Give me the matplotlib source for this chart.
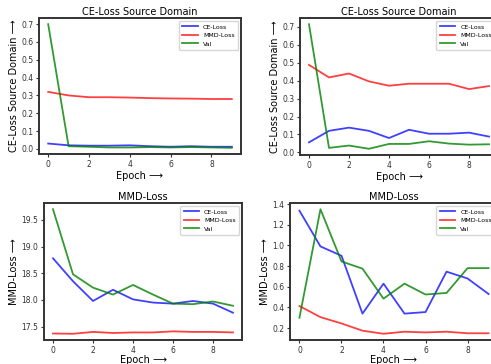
import matplotlib.pyplot as plt

# epochs shared by all four panels
epochs = list(range(10))

# top left run
tl_ce = [0.030, 0.020, 0.018, 0.018, 0.020, 0.015, 0.012, 0.015, 0.012, 0.012]
tl_mmd = [0.320, 0.300, 0.290, 0.290, 0.288, 0.285, 0.283, 0.282, 0.280, 0.280]
tl_val = [0.700, 0.015, 0.012, 0.008, 0.008, 0.010, 0.008, 0.010, 0.008, 0.006]

# top right run
tr_ce = [0.056, 0.120, 0.138, 0.120, 0.080, 0.126, 0.104, 0.104, 0.110, 0.088]
tr_mmd = [0.488, 0.418, 0.440, 0.396, 0.372, 0.383, 0.383, 0.383, 0.353, 0.370]
tr_val = [0.715, 0.025, 0.038, 0.020, 0.047, 0.047, 0.062, 0.049, 0.043, 0.045]

# bottom left run
bl_ce = [18.78, 18.35, 17.98, 18.19, 18.01, 17.95, 17.93, 17.98, 17.93, 17.76]
bl_mmd = [17.37, 17.365, 17.40, 17.38, 17.39, 17.39, 17.41, 17.40, 17.40, 17.39]
bl_val = [19.70, 18.48, 18.23, 18.10, 18.28, 18.10, 17.93, 17.92, 17.97, 17.89]

# bottom right run
br_ce = [1.336, 0.99, 0.90, 0.34, 0.63, 0.34, 0.355, 0.746, 0.68, 0.53]
br_mmd = [0.413, 0.306, 0.245, 0.175, 0.145, 0.165, 0.158, 0.165, 0.150, 0.150]
br_val = [0.30, 1.35, 0.845, 0.775, 0.485, 0.63, 0.525, 0.54, 0.78, 0.78]

W, H = 491, 364
fig = plt.figure(figsize=(W / 100, H / 100), dpi=100)


def box(l, r, t, b):
    return [l / W, 1 - b / H, (r - l) / W, (b - t) / H]


panels = [
    (box(39, 241, 18, 154), tl_ce, tl_mmd, tl_val, 'CE-Loss Source Domain', 'CE-Loss Source Domain', 1.5),
    (box(300, 498, 18, 155), tr_ce, tr_mmd, tr_val, 'CE-Loss Source Domain', 'CE-Loss Source Domain', 1.5),
    (box(44, 242, 203, 340), bl_ce, bl_mmd, bl_val, 'MMD-Loss', 'MMD-Loss', 0),
    (box(290, 498, 203, 340), br_ce, br_mmd, br_val, 'MMD-Loss', 'MMD-Loss', 0),
]

for rect, ce, mmd, val, title, ylab, xpad in panels:
    ax = fig.add_axes(rect)
    ax.plot(epochs, ce, color='blue', alpha=0.75, lw=1.3, label='CE-Loss')
    ax.plot(epochs, mmd, color='red', alpha=0.75, lw=1.3, label='MMD-Loss')
    ax.plot(epochs, val, color='green', alpha=0.8, lw=1.3, label='Val')
    ax.set_title(title, fontsize=7, pad=2)
    ax.set_xlabel('Epoch \u27f6', fontsize=7, labelpad=xpad)
    ax.set_ylabel(ylab + ' \u27f6', fontsize=7, labelpad=2)
    ax.set_xticks([0, 2, 4, 6, 8])
    ax.tick_params(labelsize=5.5, length=2.5, pad=1.5, colors='#333333')
    for s in ax.spines.values():
        s.set_linewidth(1.4)
        s.set_color('#333333')
    ax.legend(loc='upper right', fontsize=4.5, handlelength=2.5, borderpad=0.5)

fig.savefig('out.png', dpi=100)
